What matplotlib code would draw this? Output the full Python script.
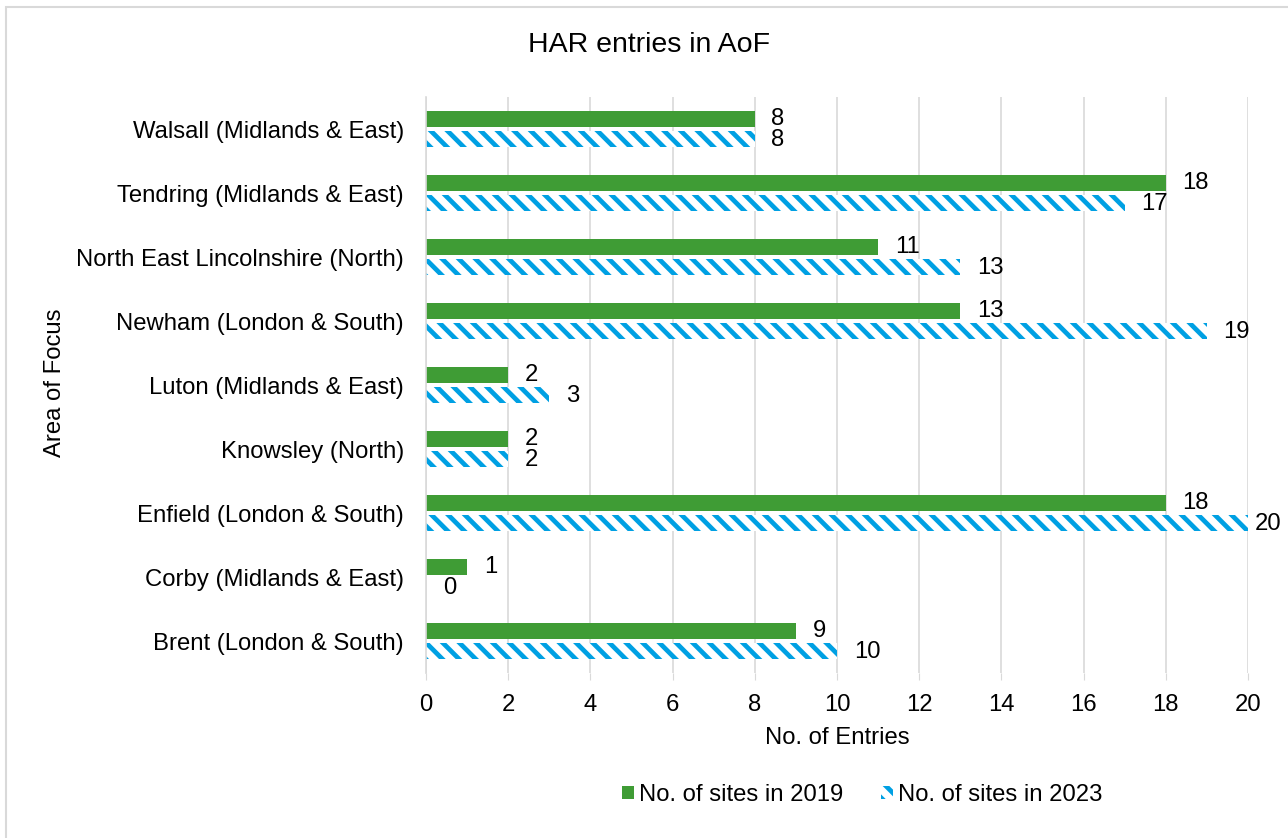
import matplotlib
matplotlib.use("Agg")
import matplotlib.pyplot as plt
from matplotlib.patches import Rectangle, Patch
import numpy as np

plt.rcParams['font.family'] = ['Liberation Sans', 'DejaVu Sans']
plt.rcParams['hatch.linewidth'] = 3.4

categories = ["Walsall (Midlands & East)", "Tendring (Midlands & East)",
              "North East Lincolnshire (North)", "Newham (London & South)",
              "Luton (Midlands & East)", "Knowsley (North)",
              "Enfield (London & South)", "Corby (Midlands & East)",
              "Brent (London & South)"]
sites_2019 = [8, 18, 11, 13, 2, 2, 18, 1, 9]
sites_2023 = [8, 17, 13, 19, 3, 2, 20, 0, 10]
series_names = ["No. of sites in 2019", "No. of sites in 2023"]
x_ticks = [0, 2, 4, 6, 8, 10, 12, 14, 16, 18, 20]

green = "#3F9C35"
blue = "#00A0E3"
fs = 17.2

fig = plt.figure(figsize=(12.88, 8.38), dpi=100)
fig.patches.append(Rectangle((6/1288, -0.05), 1.1, 1 - 7/838 + 0.05,
                             transform=fig.transFigure, fill=False,
                             edgecolor="#d9d9d9", linewidth=1.5))
ax = fig.add_axes([426/1288, 1 - 673/838, 822/1288, 576/838])

n = len(categories)
y = np.arange(n)
h = 0.26
off = 0.155
ax.barh(y - off, sites_2019, height=h, color=green, linewidth=0)
ax.barh(y + off, sites_2023, height=h, color="white", edgecolor=blue,
        hatch="\\\\", linewidth=0)

for i in range(n):
    ax.annotate(str(sites_2019[i]), (sites_2019[i], y[i] - off),
                xytext=(12, 0), textcoords="offset points",
                va="center", ha="left", fontsize=fs, color="black")
    ax.annotate(str(sites_2023[i]), (sites_2023[i], y[i] + off),
                xytext=(12 if sites_2023[i] < 20 else 5, -1),
                textcoords="offset points",
                va="center", ha="left", fontsize=fs, color="black",
                annotation_clip=False)

ax.set_ylim(n - 0.5, -0.5)
ax.set_xlim(0, 20)
ax.set_xticks(x_ticks)
ax.set_xticklabels([str(t) for t in x_ticks])
ax.set_yticks(y)
ax.set_yticklabels(categories)
ax.tick_params(axis="y", length=0, pad=16, labelsize=fs)
ax.tick_params(axis="x", length=5, color="#d9d9d9", pad=10, labelsize=fs)
ax.grid(axis="x", color="#d9d9d9", linewidth=1.2)
ax.set_axisbelow(True)
for s in ["top", "right", "bottom"]:
    ax.spines[s].set_visible(False)
ax.spines["left"].set_color("#d9d9d9")
ax.spines["left"].set_linewidth(1.2)

ax.set_xlabel("No. of Entries", fontsize=fs, labelpad=8)
fig.text(55/1288, 1 - 383/838, "Area of Focus", rotation=90, fontsize=fs,
         ha="center", va="center")
fig.text(649/1288, 1 - 45/838, "HAR entries in AoF", fontsize=20.5,
         ha="center", va="center")

handles = [Patch(facecolor=green, linewidth=0),
           Patch(facecolor="white", edgecolor=blue, hatch="\\\\", linewidth=0)]
fig.legend(handles, series_names, loc="center", ncol=2,
           bbox_to_anchor=(862/1288, 1 - 795/838), frameon=False,
           fontsize=fs, handlelength=0.5, handleheight=0.5,
           handletextpad=0.2, columnspacing=1.6)

fig.savefig("out.png", dpi=100)
